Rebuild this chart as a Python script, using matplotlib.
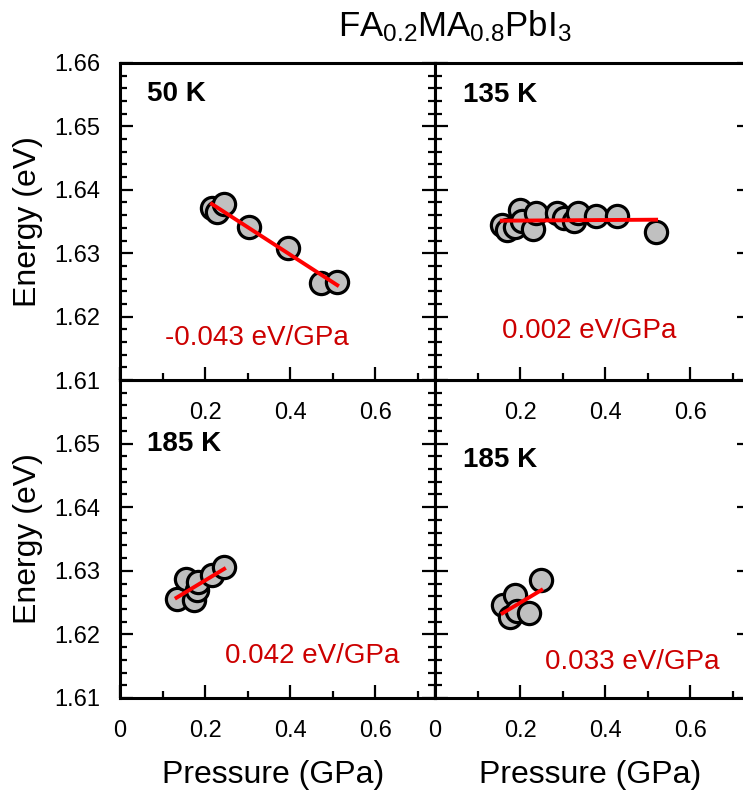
#!/usr/bin/env python3
"""
FA0.2MA0.8PbI3: exciton energy vs pressure at several temperatures,
four panels with linear fits and slopes.

Output: out.png
"""
import numpy as np
import matplotlib
matplotlib.use('Agg')
import matplotlib.pyplot as plt
from matplotlib.ticker import MultipleLocator

# panel data (pressure in GPa, energy in eV)
p_50 = [0.216, 0.227, 0.245, 0.304, 0.395, 0.472, 0.511]
e_50 = [1.6371, 1.6365, 1.6378, 1.6341, 1.6308, 1.6253, 1.6255]

p_135 = [0.157, 0.169, 0.188, 0.200, 0.204, 0.231, 0.237, 0.286, 0.304,
         0.327, 0.337, 0.379, 0.429, 0.520]
e_135 = [1.6345, 1.6336, 1.6342, 1.6368, 1.6350, 1.6338, 1.6363, 1.6364,
         1.6355, 1.6350, 1.6363, 1.6358, 1.6359, 1.6334]

p_185a = [0.133, 0.155, 0.175, 0.180, 0.184, 0.216, 0.245]
e_185a = [1.6255, 1.6287, 1.6254, 1.6270, 1.6283, 1.6293, 1.6306]

p_185b = [0.159, 0.176, 0.188, 0.192, 0.220, 0.250]
e_185b = [1.6246, 1.6228, 1.6262, 1.6236, 1.6234, 1.6286]

temps = ['50 K', '135 K', '185 K', '185 K']
slopes = ['-0.043 eV/GPa', '0.002 eV/GPa', '0.042 eV/GPa', '0.033 eV/GPa']

x_ticks = [0, 0.2, 0.4, 0.6]
y_ticks = [1.61, 1.62, 1.63, 1.64, 1.65, 1.66]


def main():
    plt.rcParams['font.family'] = ['Liberation Sans', 'DejaVu Sans']
    plt.rcParams['mathtext.fontset'] = 'custom'
    plt.rcParams['mathtext.rm'] = 'Liberation Sans'
    plt.rcParams['mathtext.it'] = 'Liberation Sans'

    fig = plt.figure(figsize=(7.43, 7.92), dpi=100)

    L, R, W = 0.1615, 0.5855, 0.4240
    B_top, H_top = 0.5202, 0.4003
    B_bot, H_bot = 0.1187, 0.4015

    # bottom row first so the top row's tick labels end up on top
    panels = [
        (p_185a, e_185a, [L, B_bot, W, H_bot], 2, (0.085, 0.777), (0.333, 0.111)),
        (p_185b, e_185b, [R, B_bot, W, H_bot], 3, (0.090, 0.725), (0.349, 0.090)),
        (p_50, e_50, [L, B_top, W, H_top], 0, (0.086, 0.880), (0.143, 0.110)),
        (p_135, e_135, [R, B_top, W, H_top], 1, (0.090, 0.878), (0.212, 0.133)),
    ]

    for px, ey, rect, idx, tpos, spos in panels:
        ax = fig.add_axes(rect)
        ax.set_xlim(0, 0.741)
        ax.set_ylim(1.61, 1.66)
        px = np.array(px)
        ey = np.array(ey)

        ax.plot(px, ey, 'o', ms=16, mfc='#c0c0c0', mec='black', mew=2.3,
                zorder=2, clip_on=False)
        k, b = np.polyfit(px, ey, 1)
        xf = np.array([px.min(), px.max()])
        ax.plot(xf, k * xf + b, color='#ff0000', lw=2.8, zorder=3)

        ax.text(tpos[0], tpos[1], temps[idx], transform=ax.transAxes,
                fontsize=20, fontweight='bold', va='baseline')
        ax.text(spos[0], spos[1], slopes[idx], transform=ax.transAxes,
                fontsize=20, color='#cc0000', va='baseline')

        top_row = idx in (0, 1)
        left_col = idx in (0, 2)

        ax.set_xticks(x_ticks)
        ax.set_xticklabels([('' if top_row else '0') if v == 0 else f'{v:.1f}'
                            for v in x_ticks])
        ax.set_yticks(y_ticks)
        if left_col:
            ax.set_yticklabels(['' if (not top_row and v > 1.655) else f'{v:.2f}'
                                for v in y_ticks])
        ax.xaxis.set_minor_locator(MultipleLocator(0.1))
        ax.yaxis.set_minor_locator(MultipleLocator(0.002))

        ax.tick_params(which='both', direction='in', top=False, bottom=True,
                       left=True, right=True, width=1.6, labelsize=17,
                       labelleft=left_col)
        ax.tick_params(axis='x', pad=16)
        ax.tick_params(axis='y', pad=14)
        ax.tick_params(which='major', length=9.5)
        ax.tick_params(which='minor', length=4.8)
        for s in ax.spines.values():
            s.set_linewidth(2.2)

        if left_col:
            fig.text(28 / 743, rect[1] + rect[3] / 2, 'Energy (eV)',
                     rotation=90, ha='center', va='center', fontsize=23)
        if not top_row:
            cx = 273 / 743 if left_col else 590 / 743
            fig.text(cx, 0.0114, 'Pressure (GPa)', ha='center',
                     va='baseline', fontsize=23)

    fig.text(0.612, 0.9537, r'FA$_{0.2}$MA$_{0.8}$PbI$_3$', ha='center',
             va='baseline', fontsize=25)

    fig.savefig('out.png', dpi=100, facecolor='white')
    print('saved out.png')


if __name__ == '__main__':
    main()
